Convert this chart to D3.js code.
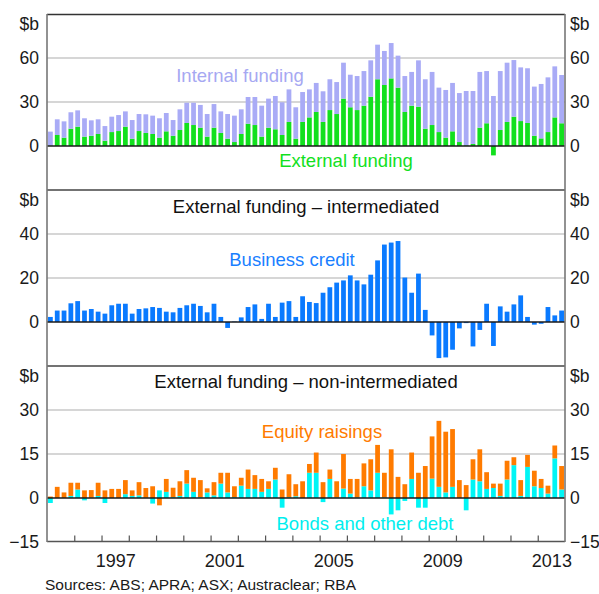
<!DOCTYPE html>
<html><head><meta charset="utf-8">
<script src="https://cdn.jsdelivr.net/npm/d3@7/dist/d3.min.js"></script>
<style>html,body{margin:0;padding:0;background:#fff}svg{display:block}text{font-family:Arial,"Liberation Sans",sans-serif}</style>
</head><body>
<script>
// ---- Data (quarterly, 1995 Q1 – 2013 Q4, $b) ----
const startYear = 1995, nQuarters = 76;
const quarters = d3.range(nQuarters).map(i => (startYear + Math.floor(i / 4)) + "Q" + (i % 4 + 1));

const externalFunding = [0.3,7.5,5.7,11.8,13.2,6.4,7,8.2,3.6,9.5,10.2,13.2,5,10.2,8.9,8.2,5.7,10,7,10.9,
15.7,14.3,12.5,6.4,12.5,8.9,5,2.7,8.2,15.2,14.3,6.4,12.5,11.4,7.5,16.4,5,16.4,19.5,23.2,
16.4,24.5,21.8,32.3,26.4,24.5,27.5,33.6,45.5,41.6,46.1,39.8,23.2,27.5,26.8,11.8,14.3,9.5,5.7,10,
2.7,0.5,1.4,12.5,15.5,-6.4,10.9,16.4,20,17,15.7,7,5.2,9.5,19.5,15.5];
const internalFunding = [9.5,10.7,11.1,11.2,11.1,12.5,10.5,10,10,10.5,10.9,10.4,12.7,11.6,12.7,12.5,13.2,12.5,10.7,14.1,
13.8,15.2,15.5,15.4,16.1,14.7,16.8,18,16.8,18.2,19.1,21.1,19.8,22.7,22.3,22.2,21.4,20.4,19.1,19.8,
20.9,21,21.8,24.5,22.2,23.2,23.6,24.8,23.6,23.2,24.1,21.8,24.5,23,31.6,33.7,36.2,30.3,32.5,33,
33.4,37,36.1,38,35.6,34.1,40.2,40.4,38.6,36.6,37.3,33.5,37.1,37.3,34.8,32.9];
const businessCredit = [2.3,5.2,5.2,8.5,9.5,5.2,5.9,4.7,3.8,7.6,8.3,8.3,3.8,5.9,6.2,6.8,6.4,4.7,4.4,6.4,
7.6,8.3,7.3,4.4,8.3,2.3,-2.7,0.2,2.1,6.8,8,1.4,8.3,2.3,8.8,9.5,2.3,11.7,9.1,8.6,
13.3,15.8,17.9,18.9,21.2,18.9,17.1,21.5,28,35.2,36.1,36.8,20.2,13.3,22,5.5,-6.1,-16.4,-16.1,-12.6,
-2.9,-0.5,-11.1,-3.6,8.3,-10.9,7.1,4.7,8,12.1,2.3,-1.2,-0.8,6.8,3,5.2];
const equityRaisings = [0.5,3.8,1.9,4.5,2.3,2.6,2.6,4.5,2.6,3.1,3.1,4.8,1.9,4.5,3.3,4,-2.5,4.4,3.2,5,
4.6,4.8,5.8,1.4,4.5,3.7,6.7,3.7,2.7,6.6,4.7,4.4,2.6,4,2.9,7.8,4.1,5.7,3,6.9,
5.4,3.2,5.5,11.8,5,6.3,7.8,10.6,9.5,8.4,16.6,7.2,4.7,9,8.6,10.9,14.4,22.5,20.7,19.7,
6.1,4.4,6.9,10.9,5.7,1.5,4.2,6.4,2.7,5.4,4.1,5.3,3.1,2.7,4.4,8];
const bondsOtherDebt = [-1.7,0,0,0.7,2.9,-0.8,0.1,0.7,-1.7,0,0,1.3,0.7,0.9,0.1,-1.9,2.6,2.1,0.3,0.7,
4.9,2.1,0.3,1.9,0.9,4.9,1.9,0.3,4.2,3.1,3.1,2.1,3.1,6.3,-3.3,0.3,0.6,0,8.6,8.6,
-1.4,6.5,0.2,3.2,1.5,0.2,4,2.6,8.6,0.2,-5.6,-4.2,-1,6.5,-3.3,-3.3,6.6,3.8,1.9,3.8,
0,-4.2,6.3,5.7,3.1,3.4,0.7,6.3,11.2,0.7,10.6,4,3.4,1.5,13.5,2.9];

const topTicks = [0, 30, 60];
const midTicks = [0, 20, 40];
const botTicks = [-15, 0, 15, 30];
const yearLabels = [1997, 2001, 2005, 2009, 2013];
const yearTicks = d3.range(1996, 2014);

// ---- Layout ----
const W = 599, H = 594;
const L = 47, R = 565;
const FS = 17.5;
const svg = d3.select("body").append("svg").attr("width", W).attr("height", H);
svg.append("rect").attr("width", W).attr("height", H).attr("fill", "#fff");

const x = d3.scaleBand().domain(quarters).range([L, R]).paddingInner(0.3).paddingOuter(0.15);
const xt = d3.scaleLinear().domain([1995, 2014]).range([L, R]);

function panel(cfg) {
  const y = d3.scaleLinear().domain(cfg.domain).range([cfg.y1, cfg.y0]);
  const g = svg.append("g");
  g.selectAll("line.grid").data(cfg.ticks.filter(t => t !== 0 && t !== cfg.domain[0]))
    .join("line").attr("x1", L).attr("x2", R)
    .attr("y1", d => y(d)).attr("y2", d => y(d))
    .attr("stroke", "#c8c8c8").attr("stroke-width", 1.3);
  const rows = quarters.map((q, i) => {
    const r = {q};
    cfg.series.forEach(s => r[s.key] = s.values[i]);
    return r;
  });
  const stack = d3.stack().keys(cfg.series.map(s => s.key)).offset(d3.stackOffsetDiverging);
  const layers = stack(rows);
  layers.forEach((layer, li) => {
    g.append("g").selectAll("rect").data(layer).join("rect")
      .attr("x", d => x(d.data.q)).attr("width", x.bandwidth())
      .attr("y", d => y(Math.max(d[0], d[1])))
      .attr("height", d => Math.abs(y(d[0]) - y(d[1])))
      .attr("fill", cfg.series[li].color);
  });
  g.append("line").attr("x1", L).attr("x2", R).attr("y1", y(0)).attr("y2", y(0))
    .attr("stroke", "#1a1a1a").attr("stroke-width", 1.5);
  const la = d3.axisLeft(y).tickValues(cfg.ticks).tickSize(0).tickPadding(8).tickFormat(d3.format("d"));
  const ra = d3.axisRight(y).tickValues(cfg.ticks).tickSize(0).tickPadding(5).tickFormat(d3.format("d"));
  [svg.append("g").attr("transform", `translate(${L},0)`).call(la),
   svg.append("g").attr("transform", `translate(${R},0)`).call(ra)].forEach(a => {
    a.select(".domain").remove();
    a.selectAll("text").attr("font-size", FS).attr("fill", "#1a1a1a").attr("font-family", "Arial, 'Liberation Sans', sans-serif");
  });
  svg.append("text").attr("x", L - 8).attr("y", cfg.y0 + 16).attr("text-anchor", "end")
    .attr("font-size", FS).attr("fill", "#1a1a1a").text("$b");
  svg.append("text").attr("x", R + 5).attr("y", cfg.y0 + 16)
    .attr("font-size", FS).attr("fill", "#1a1a1a").text("$b");
  cfg.labels.forEach(lb => {
    svg.append("text").attr("x", lb.x).attr("y", lb.y).attr("text-anchor", "middle")
      .attr("font-size", 18.5).attr("fill", lb.color).text(lb.text);
  });
  return y;
}

const cLav = "#a9abf6", cGreen = "#12e01e", cBlue = "#0a7aff", cOrange = "#ff7b00", cCyan = "#00f5f5";

panel({y0: 14, y1: 190, domain: [-30, 90], ticks: topTicks,
  series: [{key: "ext", values: externalFunding, color: cGreen},
           {key: "int", values: internalFunding, color: cLav}],
  labels: [{text: "Internal funding", x: 240, y: 82, color: "#a6a8f2"},
           {text: "External funding", x: 346, y: 167, color: cGreen}]});
panel({y0: 190, y1: 366, domain: [-20, 60], ticks: midTicks,
  series: [{key: "bc", values: businessCredit, color: cBlue}],
  labels: [{text: "External funding – intermediated", x: 306, y: 213, color: "#111"},
           {text: "Business credit", x: 292, y: 266, color: "#1a7fff"}]});
panel({y0: 366, y1: 542, domain: [-15, 45], ticks: botTicks,
  series: [{key: "bonds", values: bondsOtherDebt, color: cCyan},
           {key: "eq", values: equityRaisings, color: cOrange}],
  labels: [{text: "External funding – non-intermediated", x: 306, y: 388, color: "#111"},
           {text: "Equity raisings", x: 322, y: 438, color: "#ff7b00"},
           {text: "Bonds and other debt", x: 365, y: 530, color: "#00eeee"}]});

svg.append("line").attr("x1", L).attr("x2", R).attr("y1", 14.5).attr("y2", 14.5).attr("stroke", "#333").attr("stroke-width", 1.3);
[190, 366].forEach(yy => svg.append("line").attr("x1", L).attr("x2", R).attr("y1", yy).attr("y2", yy).attr("stroke", "#444").attr("stroke-width", 1.3));
svg.append("line").attr("x1", L).attr("x2", R).attr("y1", 541.5).attr("y2", 541.5).attr("stroke", "#555").attr("stroke-width", 1.3);
svg.append("line").attr("x1", L).attr("x2", L).attr("y1", 14).attr("y2", 542).attr("stroke", "#777").attr("stroke-width", 1.6);
svg.append("line").attr("x1", R).attr("x2", R).attr("y1", 14).attr("y2", 542).attr("stroke", "#777").attr("stroke-width", 1.6);

const xa = d3.axisBottom(xt).tickValues(yearTicks).tickSize(-6).tickFormat("");
const xg = svg.append("g").attr("transform", "translate(0,541.5)").call(xa);
xg.select(".domain").remove();
xg.selectAll("line").attr("stroke", "#555").attr("stroke-width", 1.2);
const xl = d3.axisBottom(xt).tickValues(yearLabels.map(y => y + 0.5)).tickSize(0).tickPadding(13).tickFormat(d => String(Math.floor(d)));
const xlg = svg.append("g").attr("transform", "translate(0,541.5)").call(xl);
xlg.select(".domain").remove();
xlg.selectAll("text").attr("font-size", 18).attr("fill", "#1a1a1a").attr("font-family", "Arial, 'Liberation Sans', sans-serif");

svg.append("text").attr("x", 45).attr("y", 590).attr("font-size", 15.5).attr("fill", "#1a1a1a")
  .text("Sources: ABS; APRA; ASX; Austraclear; RBA");
</script>
</body></html>
